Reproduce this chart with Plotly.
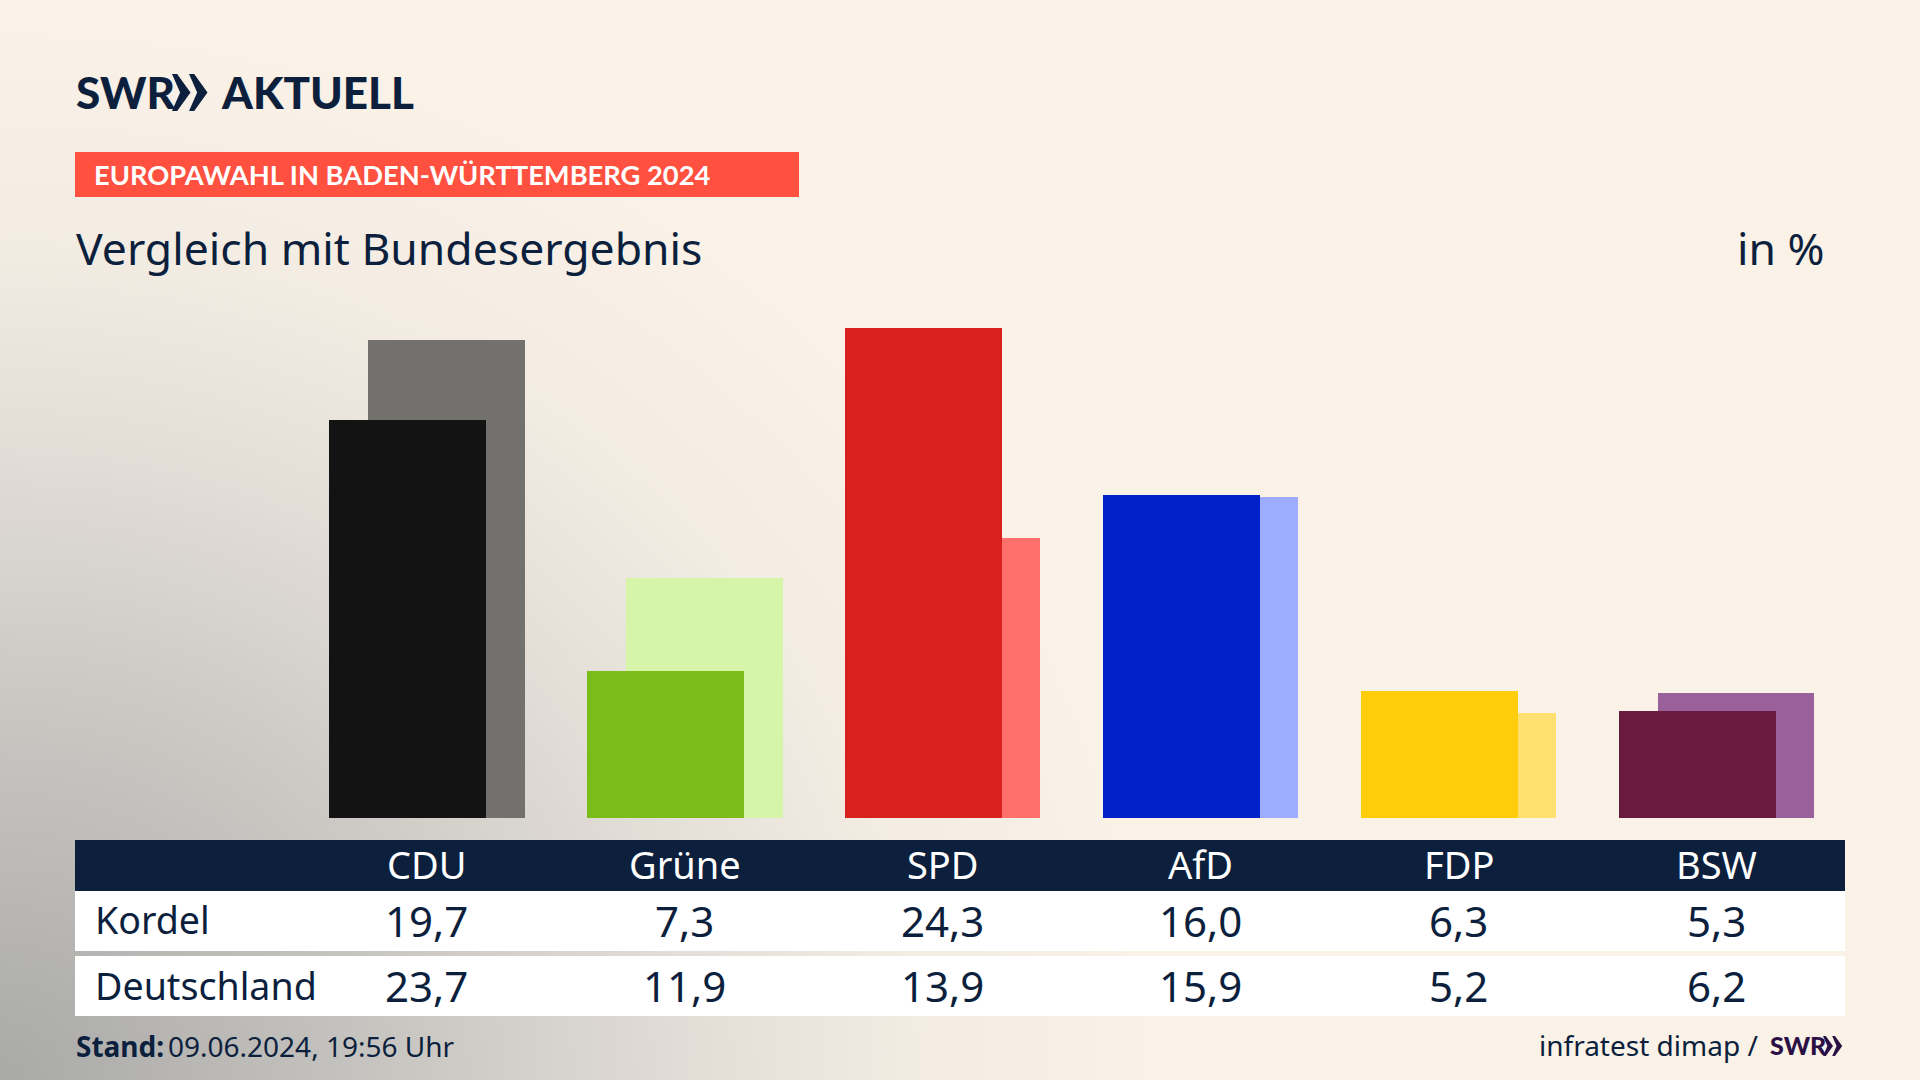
import plotly.graph_objects as go

parties = ["CDU", "Grüne", "SPD", "AfD", "FDP", "BSW"]
kordel = [19.7, 7.3, 24.3, 16.0, 6.3, 5.3]
deutschland = [23.7, 11.9, 13.9, 15.9, 5.2, 6.2]
dark_colors = ["#131313", "#7abc1a", "#d8201e", "#0020c8", "#ffcd0a", "#6b1a3f"]
light_colors = ["#73716e", "#d7f5a9", "#ff706c", "#9dacff", "#ffe070", "#9a6099"]
row_names = ["Kordel", "Deutschland"]

W, H = 1920, 1080
NAVY = "#0c1f3d"
FONT = "Noto Sans"
LOGO = "Lato"
BG_CSS = ("radial-gradient(ellipse 1150px 1050px at 0px 1080px, "
          "#a9a9a8 0%, #c4c2be 30%, #e2ddd6 60%, #f3ece3 80%, #faf1e7 100%)")


def fx(px):
    return px / W


def fy(px):
    return 1 - px / H


def rect(x0, y0, x1, y1, color):
    return dict(type="rect", xref="paper", yref="paper", x0=fx(x0), x1=fx(x1),
                y0=fy(y0), y1=fy(y1), fillcolor=color, line_width=0, layer="below")


def poly(points, color):
    path = "M" + " L".join(f"{fx(x):.5f},{fy(y):.5f}" for x, y in points) + " Z"
    return dict(type="path", xref="paper", yref="paper", path=path, fillcolor=color, line_width=0)


def text(s, x, y, size, color=NAVY, anchor="left", family=FONT, weight=None, xref="paper"):
    return dict(text=s, x=fx(x) if xref == "paper" else x, y=fy(y), xref=xref, yref="paper",
                xanchor=anchor, yanchor="middle", showarrow=False, align=anchor,
                font=dict(size=size, color=color, family=family, weight=weight), borderpad=0)


def chevrons(x0, y0, h, color):
    w = h * 0.5
    flat = h * 0.14
    notch = h * 0.22
    out = []
    for i in range(2):
        ox = x0 + i * h * 0.46
        out.append(poly([(ox, y0), (ox + flat, y0), (ox + w, y0 + h / 2), (ox + flat, y0 + h),
                         (ox, y0 + h), (ox + notch, y0 + h / 2)], color))
    return out


fig = go.Figure()
fig.add_bar(x=parties, y=deutschland, marker=dict(color=light_colors, line_width=0),
            width=0.6066, offset=-0.2286, name="Deutschland", showlegend=False)
fig.add_bar(x=parties, y=kordel, marker=dict(color=dark_colors, line_width=0),
            width=0.608, offset=-0.38, name="Kordel", showlegend=False)

shapes = [
    rect(75, 152, 799, 197, "#ff5040"),
    rect(75, 840, 1845, 891, NAVY),
    rect(75, 891, 1845, 951, "#ffffff"),
    rect(75, 956, 1845, 1016, "#ffffff"),
]
shapes += chevrons(172, 74, 37, NAVY)
shapes += chevrons(1823, 1036, 20, "#2a1045")

annotations = [
    text("SWR", 75, 92, 44, family=LOGO, weight=900),
    text("AKTUELL", 220, 92, 44, family=LOGO, weight=900),
    text("EUROPAWAHL IN BADEN-WÜRTTEMBERG 2024", 93, 175, 27.3, color="#ffffff", family=LOGO, weight=700),
    text("Vergleich mit Bundesergebnis", 75, 247, 44.5),
    text("in %", 1826, 247, 44.5, anchor="right"),
    text(row_names[0], 94, 919, 37.6),
    text(row_names[1], 94, 985, 37.6),
    text("Stand:", 75, 1046, 28, weight=700),
    text("09.06.2024, 19:56 Uhr", 167, 1046, 28),
    text("infratest dimap /", 1759, 1045, 28, anchor="right"),
    text("SWR", 1769, 1045, 25, color="#2a1045", family=LOGO, weight=900),
]
for i, p in enumerate(parties):
    annotations.append(text(p, i, 864, 38, color="#ffffff", anchor="center", xref="x"))
    annotations.append(text(f"{kordel[i]:.1f}".replace(".", ","), i, 920, 42, anchor="center", xref="x"))
    annotations.append(text(f"{deutschland[i]:.1f}".replace(".", ","), i, 985, 42, anchor="center", xref="x"))

fig.update_layout(
    width=W, height=H, margin=dict(l=0, r=0, t=0, b=0),
    paper_bgcolor="rgba(0,0,0,0)", plot_bgcolor="rgba(0,0,0,0)",
    barmode="overlay", bargap=0, showlegend=False, hovermode=False,
    font=dict(family=FONT, color=NAVY),
    shapes=shapes, annotations=annotations,
    xaxis=dict(type="category", categoryorder="array", categoryarray=parties,
               range=[-1.655, 5.787], visible=False, fixedrange=True),
    yaxis=dict(domain=[(H - 818) / H, (H - 300) / H], range=[0, 25.67], visible=False, fixedrange=True),
)

post = f"""
document.documentElement.style.margin='0';
document.body.style.margin='0';
document.body.style.overflow='hidden';
document.body.style.background='#faf1e7';
document.body.style.backgroundImage='{BG_CSS}';
document.body.style.height='1080px';
"""
fig.write_html("out.html", post_script=post, config=dict(displayModeBar=False))
